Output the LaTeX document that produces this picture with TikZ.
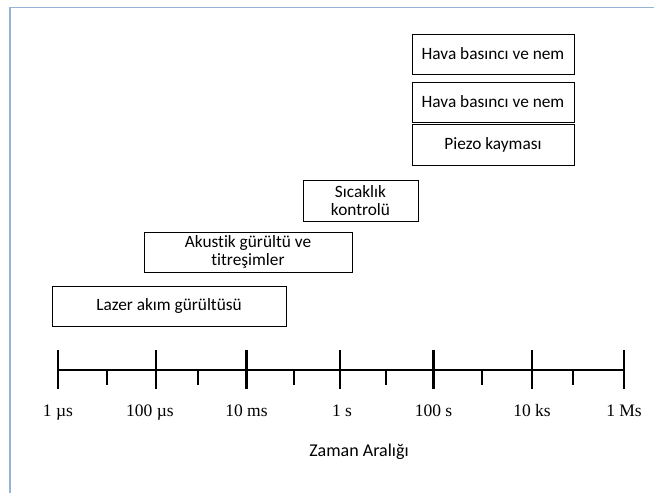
\documentclass[tikz,border=0pt]{standalone}
\usepackage{fontspec}
\setmainfont{Liberation Serif}
\newfontfamily\boxfont{Carlito}[Ligatures=NoCommon]
\definecolor{frameblue}{HTML}{95B3D7}
\begin{document}
\begin{tikzpicture}[x=1pt,y=-1pt,
  band/.style={draw=black, line width=0.9pt, fill=white, inner sep=2pt,
    font=\boxfont\fontsize{17.3}{17.5}\selectfont, align=center},
  axisline/.style={line width=2.6pt},
  majortick/.style={line width=2.6pt},
  minortick/.style={line width=2.2pt},
  ticklabel/.style={font=\fontsize{17.5}{20}\selectfont, inner sep=0pt, anchor=base},
  axistitle/.style={font=\boxfont\fontsize{18}{20}\selectfont, inner sep=0pt, anchor=base}]
  \useasboundingbox (0,0) rectangle (654,493);

  % page frame
  \draw[frameblue, line width=1.6pt] (10,493) -- (10,7.5) -- (654,7.5);

  % noise bands
  \node[band, minimum width=234pt, minimum height=40pt] (lazer) at (169,306) {Lazer akım gürültüsü};
  \node[band, minimum width=208pt, minimum height=40pt] (akustik) at (248,252) {Akustik gürültü ve\\titreşimler};
  \node[band, minimum width=115pt, minimum height=41pt] (sicaklik) at (360.5,200.5) {Sıcaklık\\kontrolü};
  \node[band, minimum width=162pt, minimum height=41pt] (piezo) at (493,144.5) {Piezo kayması};
  \node[band, minimum width=162pt, minimum height=40pt] (hava2) at (493,102) {Hava basıncı ve nem};
  \node[band, minimum width=162pt, minimum height=40pt] (hava1) at (493,54) {Hava basıncı ve nem};

  % time axis: decade marks, then half-way marks
  \foreach \n/\x in {a/58, b/156, c/246.5, d/340, e/433.5, f/532, g/624} {
    \coordinate (M\n) at (\x,370);
  }
  \draw[axisline] (Ma) -- (Mg);
  \foreach \n in {a,b,c,d,e,f,g} {
    \draw[majortick] ([yshift=20pt]M\n) -- ([yshift=-19pt]M\n);
  }
  \foreach \n/\x in {p/107, q/198, r/294, s/386, t/482, u/573} {
    \coordinate (m\n) at (\x,370);
    \draw[minortick] (m\n) -- ([yshift=-15pt]m\n);
  }

  % tick labels
  \node[ticklabel] (la) at (58,416) {1 µs};
  \node[ticklabel] (lb) at (150,416) {100 µs};
  \node[ticklabel] (lc) at (246.5,416) {10 ms};
  \node[ticklabel] (ld) at (342,416) {1 s};
  \node[ticklabel] (le) at (433.5,416) {100 s};
  \node[ticklabel] (lf) at (532,416) {10 ks};
  \node[ticklabel] (lg) at (624,416) {1 Ms};

  \node[axistitle] (title) at (359,456) {Zaman Aralığı};
\end{tikzpicture}
\end{document}
